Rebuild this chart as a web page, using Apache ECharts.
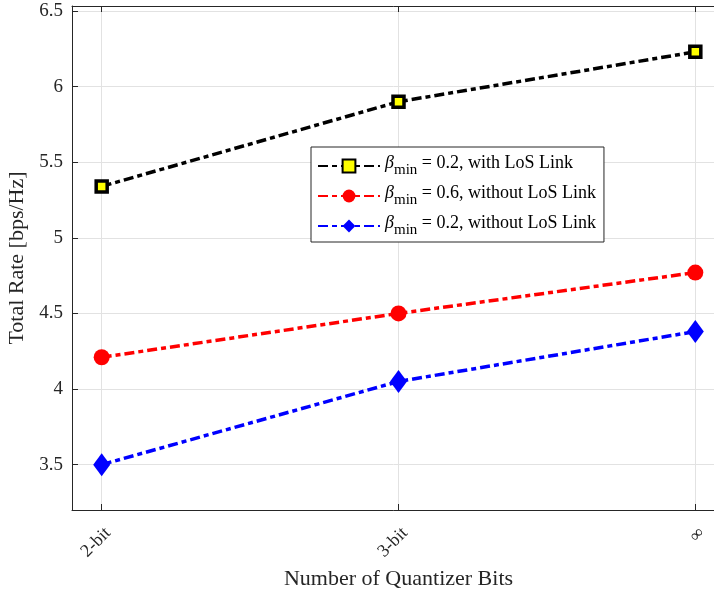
<!DOCTYPE html>
<html>
<head>
<meta charset="utf-8">
<script src="https://cdn.jsdelivr.net/npm/echarts@6/dist/echarts.min.js"></script>
<style>
  html, body { margin: 0; padding: 0; background: #fff; }
  #chart { width: 714px; height: 592px; }
</style>
</head>
<body>
<div id="chart"></div>
<script>
// quantizer resolutions on the x axis
const bitLabels = ['2-bit', '3-bit', '\u221E'];
const bitPos = [0, 1, 2];

// total rate per series [bps/Hz]
const withLoS02 = [5.34, 5.90, 6.23];
const withoutLoS06 = [4.21, 4.50, 4.77];
const withoutLoS02 = [3.50, 4.05, 4.38];

const seriesNames = ['b02los', 'b06nolos', 'b02nolos'];
const legendText = {
    b02los: ['0.2', 'with LoS Link'],
    b06nolos: ['0.6', 'without LoS Link'],
    b02nolos: ['0.2', 'without LoS Link']
};

const font = 'Liberation Serif';
const axisCol = '#262626';

const toPts = arr => arr.map((v, i) => [bitPos[i], v]);

const chart = echarts.init(document.getElementById('chart'));

const lineStyle = (color) => ({ color: color, width: 3.5, type: [10, 4, 5, 4] });

const option = {
    animation: false,
    backgroundColor: '#fff',
    grid: { left: 72, right: -11, top: 6, bottom: 82, outerBoundsMode: 'none', containLabel: false },
    legend: {
        left: 311,
        top: 147,
        width: 280,
        orient: 'vertical',
        backgroundColor: '#fff',
        borderColor: axisCol,
        borderWidth: 1,
        borderRadius: 0,
        padding: [4, 8, 4, 6],
        itemGap: 3,
        itemWidth: 62,
        itemHeight: 16,
        data: seriesNames,
        formatter: (name) => {
            const t = legendText[name];
            return '{b|\u03B2}{s|min}{t| = ' + t[0] + ', ' + t[1] + '}';
        },
        textStyle: {
            fontFamily: font,
            color: '#000',
            rich: {
                b: { fontFamily: font, fontStyle: 'italic', fontSize: 18, color: '#000', lineHeight: 24, verticalAlign: 'top' },
                s: { fontFamily: font, fontSize: 15, color: '#000', lineHeight: 24, verticalAlign: 'bottom', padding: [12, 0, 0, 0] },
                t: { fontFamily: font, fontSize: 18, color: '#000', lineHeight: 24, verticalAlign: 'top' }
            }
        }
    },
    xAxis: [{
        type: 'value',
        min: -0.1,
        max: 2.1,
        name: 'Number of Quantizer Bits',
        nameLocation: 'middle',
        nameGap: 54,
        nameTextStyle: { fontFamily: font, fontSize: 22, color: '#262626' },
        axisLine: { onZero: false, lineStyle: { color: axisCol, width: 1 } },
        axisTick: { inside: true, length: 6, customValues: bitPos, lineStyle: { color: axisCol } },
        axisLabel: {
            rotate: 45,
            margin: 14,
            verticalAlign: 'top',
            fontFamily: font,
            fontSize: 18,
            color: '#262626',
            customValues: bitPos,
            formatter: v => bitLabels[Math.round(v)]
        },
        splitLine: { show: true, lineStyle: { color: '#e2e2e2', width: 1 } }
    }, {
        type: 'value',
        position: 'top',
        min: -0.1,
        max: 2.1,
        axisLine: { onZero: false, lineStyle: { color: axisCol, width: 1 } },
        axisTick: { inside: true, length: 6, customValues: bitPos, lineStyle: { color: axisCol } },
        axisLabel: { show: false },
        splitLine: { show: false }
    }],
    yAxis: [{
        type: 'value',
        min: 3.2,
        max: 6.533,
        splitNumber: 6,
        name: 'Total Rate [bps/Hz]',
        nameLocation: 'middle',
        nameGap: 38,
        nameTextStyle: { fontFamily: font, fontSize: 22, color: '#262626' },
        axisLine: { show: true, onZero: false, lineStyle: { color: axisCol, width: 1 } },
        axisTick: { inside: true, length: 6, lineStyle: { color: axisCol } },
        axisLabel: {
            fontFamily: font,
            fontSize: 19,
            color: '#262626',
            margin: 9,
            showMinLabel: false,
            showMaxLabel: false,
            formatter: v => String(Math.round(v * 10) / 10)
        },
        splitLine: { show: true, lineStyle: { color: '#e2e2e2', width: 1 } }
    }],
    series: [{
        name: seriesNames[0],
        type: 'line',
        data: toPts(withLoS02),
        symbol: 'rect',
        symbolSize: 11,
        itemStyle: { color: '#ffff00', borderColor: '#000', borderWidth: 3.5 },
        lineStyle: lineStyle('#000'),
        z: 5
    }, {
        name: seriesNames[1],
        type: 'line',
        data: toPts(withoutLoS06),
        symbol: 'circle',
        symbolSize: 16,
        itemStyle: { color: '#ff0000', borderColor: '#ff0000', borderWidth: 0 },
        lineStyle: lineStyle('#ff0000'),
        z: 4
    }, {
        name: seriesNames[2],
        type: 'line',
        data: toPts(withoutLoS02),
        symbol: 'diamond',
        symbolSize: [17, 23],
        itemStyle: { color: '#0000ff', borderColor: '#0000ff', borderWidth: 0 },
        lineStyle: lineStyle('#0000ff'),
        z: 3
    }]
};

chart.setOption(option);
</script>
</body>
</html>
